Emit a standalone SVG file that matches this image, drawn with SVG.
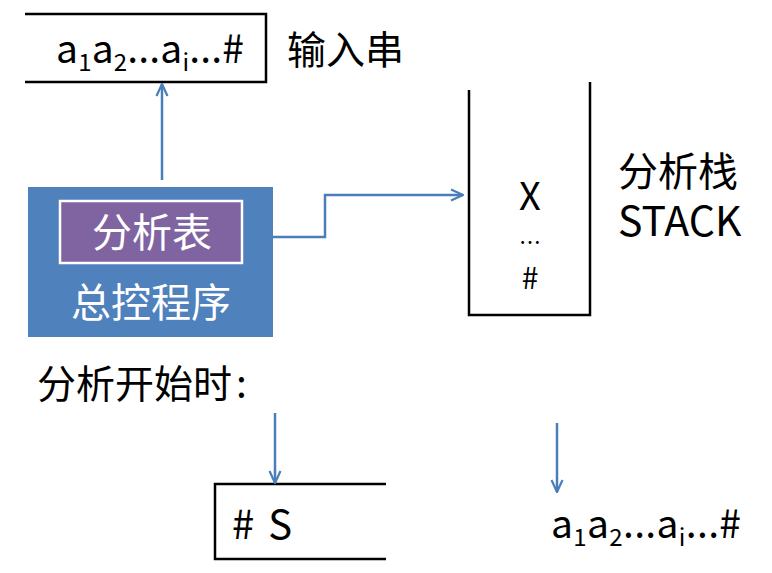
<svg xmlns="http://www.w3.org/2000/svg" width="772" height="573" viewBox="0 0 772 573">
  <defs>
    <marker id="arr" viewBox="0 0 14 14" refX="13" refY="7" markerWidth="14" markerHeight="14" markerUnits="userSpaceOnUse" orient="auto">
      <path d="M1,1.5 L13,7 L1,12.5" fill="none" stroke="#4A7EBB" stroke-width="2.2"/>
    </marker>
    <style>
      text { font-family: "Noto Sans CJK SC", "Liberation Sans", sans-serif; fill: #000; }
      .frame { fill: none; stroke: #000; stroke-width: 2.5; }
      .conn { fill: none; stroke: #4A7EBB; stroke-width: 2.5; marker-end: url(#arr); }
      .lbl { font-size: 39px; }
      .w { fill: #fff; }
      .sub { font-size: 24px; }
    </style>
  </defs>

  <!-- input string box (open on the left) -->
  <g id="input">
    <path class="frame" d="M25,14 H266 V82 H25"/>
    <text x="56" y="63" font-size="39" textLength="188" lengthAdjust="spacing">a<tspan class="sub" dy="8">1</tspan><tspan dy="-8">a</tspan><tspan class="sub" dy="8">2</tspan><tspan dy="-8">...a</tspan><tspan class="sub" dy="8">i</tspan><tspan dy="-8">...#</tspan></text>
  </g>
  <text id="input-label" class="lbl" x="287" y="64">输入串</text>

  <!-- driver program with parse table -->
  <g id="driver">
    <rect x="28" y="187" width="245" height="150" fill="#4F81BD"/>
    <rect x="60" y="201" width="182" height="62" fill="#8064A2" stroke="#fff" stroke-width="2.5"/>
    <text class="w" x="152" y="247" font-size="40" text-anchor="middle">分析表</text>
    <text class="w" x="151" y="317" font-size="40" text-anchor="middle">总控程序</text>
  </g>

  <!-- analysis stack -->
  <g id="stack">
    <path class="frame" d="M469,90 V315 H590 V82"/>
    <text x="530" y="210" font-size="38" text-anchor="middle">X</text>
    <text x="530" y="250" font-size="22" text-anchor="middle">…</text>
    <text x="530" y="289" font-size="30" text-anchor="middle">#</text>
  </g>
  <g id="stack-label">
    <text x="618" y="186" font-size="40">分析栈<tspan x="618" dy="50" font-size="41">STACK</tspan></text>
  </g>

  <text id="start-label" class="lbl" x="37" y="398">分析开始时<tspan dx="4">:</tspan></text>

  <!-- initial stack -->
  <g id="init-stack">
    <path class="frame" d="M386,484 H215 V559 H386"/>
    <text x="232" y="539" font-size="40" textLength="60" lengthAdjust="spacing"># S</text>
  </g>

  <!-- initial input -->
  <g id="init-input">
    <text x="551" y="538" font-size="39" textLength="190" lengthAdjust="spacing">a<tspan class="sub" dy="8">1</tspan><tspan dy="-8">a</tspan><tspan class="sub" dy="8">2</tspan><tspan dy="-8">...a</tspan><tspan class="sub" dy="8">i</tspan><tspan dy="-8">...#</tspan></text>
  </g>

  <g id="connectors">
    <path class="conn" d="M162,180 V84"/>
    <path class="conn" d="M273,237 H325 V195 H463"/>
    <path class="conn" d="M275,413 V483"/>
    <path class="conn" d="M557,423 V492"/>
  </g>
</svg>
